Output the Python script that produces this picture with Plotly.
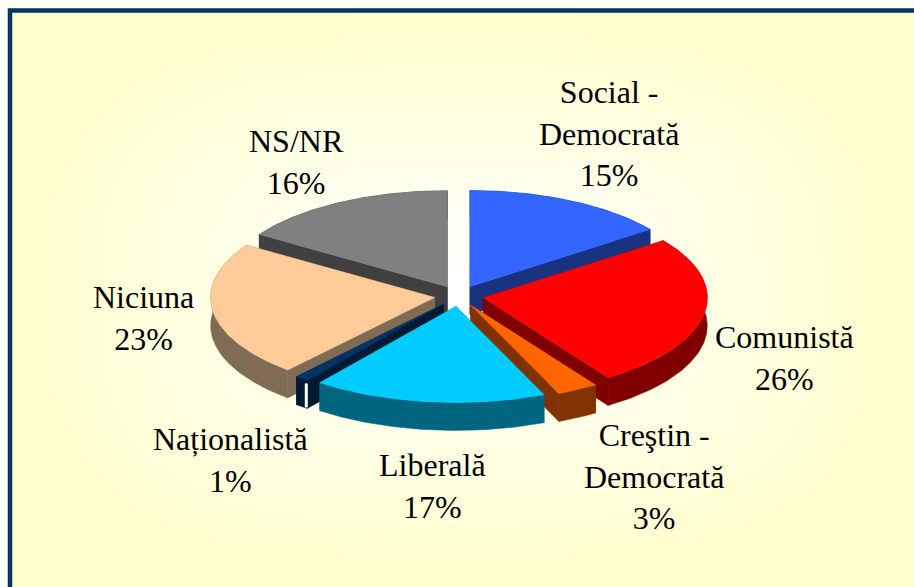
import numpy as np
import plotly.graph_objects as go

# Data
categories = ["Social -<br>Democrată", "Comunistă", "Creştin -<br>Democrată", "Liberală",
              "Naționalistă", "Niciuna", "NS/NR"]
values = [15, 26, 3, 17, 1, 23, 16]
top_colors = ["#3366FF", "#FF0000", "#FF6600", "#00CCFF", "#003366", "#FFCC99", "#808080"]
side_colors = ["#1A3380", "#800000", "#803300", "#006680", "#001A33", "#806B55", "#404040"]
label_x = [609, 784, 654, 432, 230, 143, 296]
label_y = [133, 358, 476, 486, 460, 318, 162]
draw_order = [6, 0, 5, 1, 4, 2, 3]

# Pie projection
CX, CY, RX, RY, DEPTH, EXPLODE = 459, 296, 224, 96, 28, 0.11
W, H = 914, 587
FONT = "Liberation Serif"

fig = go.Figure()

# Background: pale yellow fading to white at the centre
gx = np.linspace(12, W, 91)
gy = np.linspace(12, H, 61)
X, Y = np.meshgrid(gx, gy)
t = (np.abs((X - 460) / 450) ** 3 + np.abs((Y - 295) / 285) ** 3) ** (1 / 3)
fig.add_trace(go.Heatmap(
    x=gx, y=gy, z=np.clip(t, 0, 1), zmin=0, zmax=1, zsmooth="best", showscale=False,
    colorscale=[[0, "#FFFFFF"], [0.25, "#FFFFF6"], [1, "#FFFFCC"]], hoverinfo="skip"))


def slice_geometry(i):
    total = sum(values)
    th1 = 2 * np.pi * sum(values[:i]) / total
    th2 = 2 * np.pi * sum(values[:i + 1]) / total
    mid = (th1 + th2) / 2
    ax = CX + EXPLODE * RX * np.sin(mid)
    ay = CY - EXPLODE * RY * np.cos(mid)
    th = np.linspace(th1, th2, max(4, int(values[i] * 6)))
    px = ax + RX * np.sin(th)
    py = ay - RY * np.cos(th)
    return ax, ay, px, py


def poly(xs, ys, color, name):
    fig.add_trace(go.Scatter(x=list(xs) + [xs[0]], y=list(ys) + [ys[0]], mode="lines", fill="toself",
                             fillcolor=color, line=dict(color=color, width=0.5), name=name,
                             hoverinfo="name", showlegend=False))


for i in draw_order:
    ax, ay, px, py = slice_geometry(i)
    name = categories[i].replace("<br>", " ")
    # cut walls
    for ex, ey in ((px[0], py[0]), (px[-1], py[-1])):
        poly([ax, ex, ex, ax], [ay, ey, ey + DEPTH, ay + DEPTH], side_colors[i], name)
    # outer wall
    poly(list(px) + list(px[::-1]), list(py) + list(py[::-1] + DEPTH), side_colors[i], name)
    # corner highlight of the sliver
    if values[i] == 1:
        fig.add_trace(go.Scatter(x=[px[0] - 1, px[0] - 1], y=[py[0] + 3, py[0] + DEPTH - 1], mode="lines",
                                 line=dict(color="#FFFFFF", width=3), hoverinfo="skip", showlegend=False))
    # top face
    poly([ax] + list(px), [ay] + list(py), top_colors[i], name)

annotations = [
    dict(x=label_x[i], y=label_y[i], xref="x", yref="y", text=f"{categories[i]}<br>{values[i]}%",
         showarrow=False, align="center", xanchor="center", yanchor="middle",
         font=dict(family=FONT, size=32, color="#000000"))
    for i in range(len(categories))
]

fig.update_layout(
    width=W, height=H, margin=dict(l=0, r=0, t=0, b=0), paper_bgcolor="#FFFFFF", plot_bgcolor="rgba(0,0,0,0)",
    xaxis=dict(range=[0, W], visible=False, fixedrange=True),
    yaxis=dict(range=[H, 0], visible=False, fixedrange=True),
    annotations=annotations, showlegend=False,
    shapes=[dict(type="rect", xref="x", yref="y", x0=10, y0=10.5, x1=W + 20, y1=H + 20,
                 line=dict(color="#003366", width=4.5), layer="above")],
)
fig.write_html("out.html", config={"displayModeBar": False},
               post_script="document.body.style.margin='0';document.documentElement.style.overflow='hidden';")
